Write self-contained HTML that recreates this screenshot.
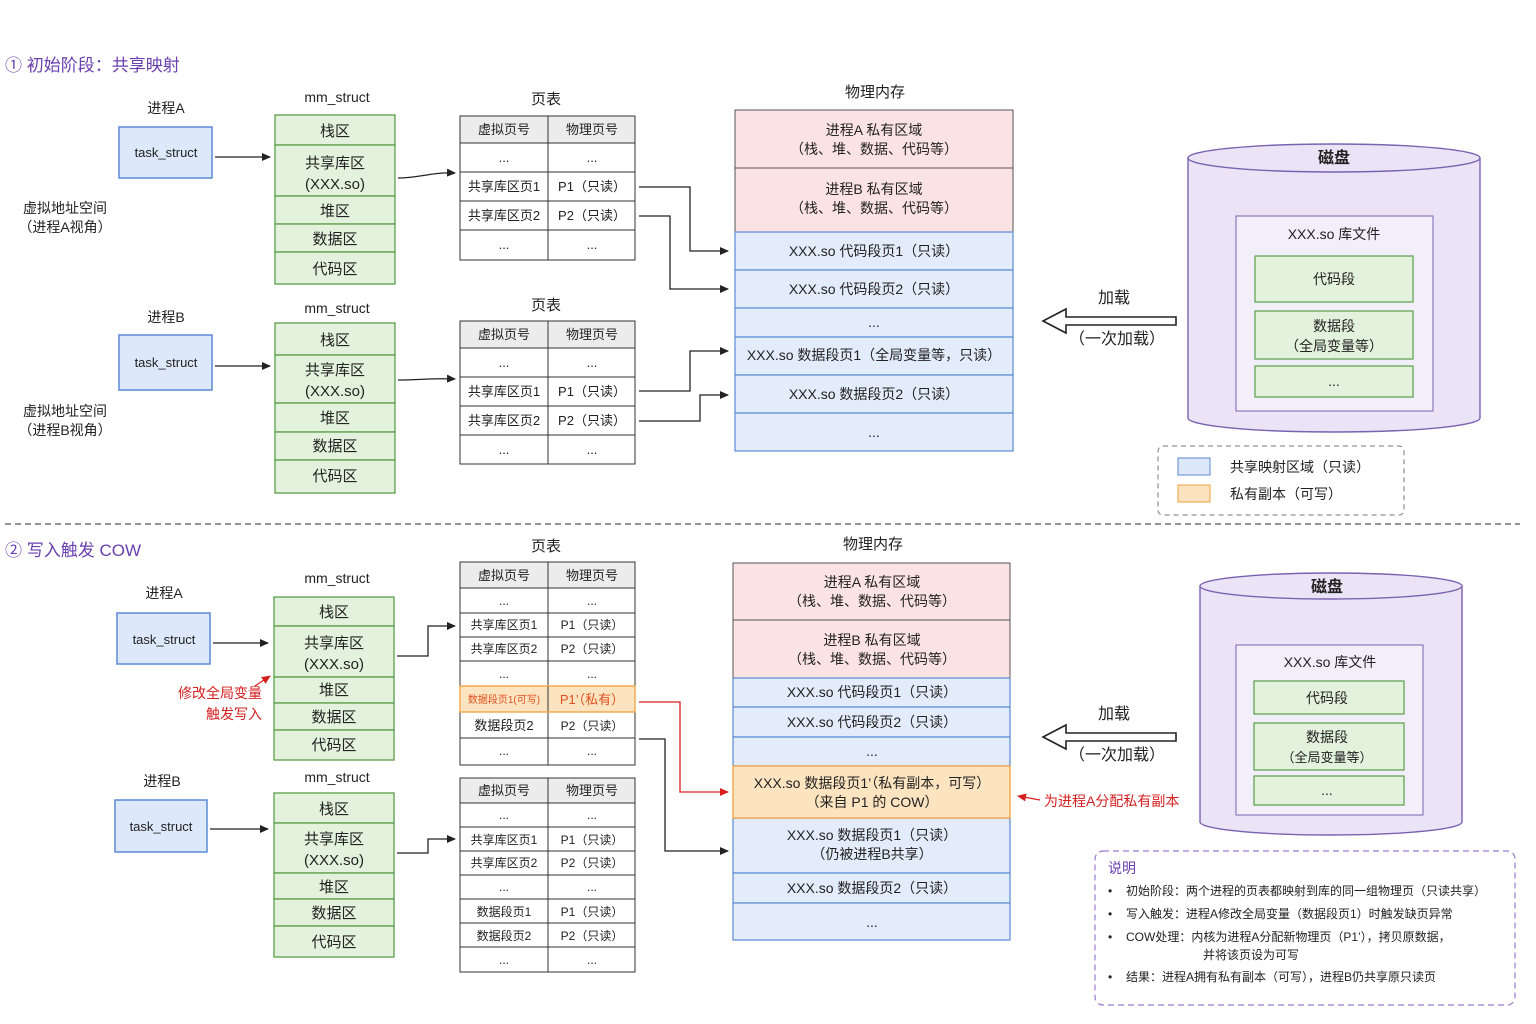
<!DOCTYPE html>
<html><head><meta charset="utf-8"><style>
html,body{margin:0;padding:0;background:#fff;}
svg{display:block;font-family:"Liberation Sans","Noto Sans CJK SC",sans-serif;}
text{fill:#222;}
</style></head><body>
<svg width="1536" height="1024" viewBox="0 0 1536 1024" xmlns="http://www.w3.org/2000/svg">
<defs>
<marker id="ab" markerWidth="10" markerHeight="10" refX="8" refY="5" orient="auto" markerUnits="userSpaceOnUse"><path d="M0,1 L9,5 L0,9 z" fill="#222"/></marker>
<marker id="ar" markerWidth="10" markerHeight="10" refX="8" refY="5" orient="auto" markerUnits="userSpaceOnUse"><path d="M0,1 L9,5 L0,9 z" fill="#d62020"/></marker>
</defs>
<g font-size="14">
<!-- ===== Section 1 ===== -->
<text x="5" y="71" font-size="17" style="fill:#6a3fb0">① 初始阶段：共享映射</text>

<!-- process A -->
<text x="166" y="113" text-anchor="middle">进程A</text>
<rect x="119" y="127" width="93" height="51" fill="#dde8fb" stroke="#5b8ad6" stroke-width="1.5"/>
<text x="166" y="157" text-anchor="middle" font-size="13">task_struct</text>
<text x="65" y="213" text-anchor="middle">虚拟地址空间</text>
<text x="65" y="232" text-anchor="middle">（进程A视角）</text>
<text x="337" y="102" text-anchor="middle">mm_struct</text>
<g fill="#e3f2dd" stroke="#5a9e4a" stroke-width="1.3">
<rect x="275" y="115" width="120" height="30"/><rect x="275" y="145" width="120" height="51"/><rect x="275" y="196" width="120" height="28"/><rect x="275" y="224" width="120" height="28"/><rect x="275" y="252" width="120" height="32"/>
</g>
<g text-anchor="middle" font-size="15">
<text x="335" y="136">栈区</text><text x="335" y="168">共享库区</text><text x="335" y="189">(XXX.so)</text><text x="335" y="216">堆区</text><text x="335" y="244">数据区</text><text x="335" y="274">代码区</text>
</g>
<line x1="215" y1="157" x2="270" y2="157" stroke="#222" stroke-width="1.3" marker-end="url(#ab)"/>
<path d="M398,178 C420,178 430,172 455,173" fill="none" stroke="#222" stroke-width="1.3" marker-end="url(#ab)"/>

<!-- page table A -->
<text x="546" y="104" text-anchor="middle" font-size="15">页表</text>
<rect x="460" y="116" width="175" height="27" fill="#ececec" stroke="#333"/>
<g fill="none" stroke="#333"><rect x="460" y="116" width="175" height="144"/><line x1="548" y1="116" x2="548" y2="260"/><line x1="460" y1="143" x2="635" y2="143"/><line x1="460" y1="172" x2="635" y2="172"/><line x1="460" y1="201" x2="635" y2="201"/><line x1="460" y1="230" x2="635" y2="230"/></g>
<g text-anchor="middle" font-size="13">
<text x="504" y="134">虚拟页号</text><text x="592" y="134">物理页号</text>
<text x="504" y="162">...</text><text x="592" y="162">...</text>
<text x="504" y="191">共享库区页1</text><text x="592" y="191">P1（只读）</text>
<text x="504" y="220">共享库区页2</text><text x="592" y="220">P2（只读）</text>
<text x="504" y="249">...</text><text x="592" y="249">...</text>
</g>

<!-- process B -->
<text x="166" y="322" text-anchor="middle">进程B</text>
<rect x="119" y="335" width="93" height="55" fill="#dde8fb" stroke="#5b8ad6" stroke-width="1.5"/>
<text x="166" y="367" text-anchor="middle" font-size="13">task_struct</text>
<text x="65" y="416" text-anchor="middle">虚拟地址空间</text>
<text x="65" y="435" text-anchor="middle">（进程B视角）</text>
<text x="337" y="313" text-anchor="middle">mm_struct</text>
<g fill="#e3f2dd" stroke="#5a9e4a" stroke-width="1.3">
<rect x="275" y="323" width="120" height="32"/><rect x="275" y="355" width="120" height="48"/><rect x="275" y="403" width="120" height="29"/><rect x="275" y="432" width="120" height="28"/><rect x="275" y="460" width="120" height="33"/>
</g>
<g text-anchor="middle" font-size="15">
<text x="335" y="345">栈区</text><text x="335" y="375">共享库区</text><text x="335" y="396">(XXX.so)</text><text x="335" y="423">堆区</text><text x="335" y="451">数据区</text><text x="335" y="481">代码区</text>
</g>
<line x1="215" y1="366" x2="270" y2="366" stroke="#222" stroke-width="1.3" marker-end="url(#ab)"/>
<path d="M398,380 C420,380 430,378 455,379" fill="none" stroke="#222" stroke-width="1.3" marker-end="url(#ab)"/>

<text x="546" y="310" text-anchor="middle" font-size="15">页表</text>
<rect x="460" y="321" width="175" height="27" fill="#ececec" stroke="#333"/>
<g fill="none" stroke="#333"><rect x="460" y="321" width="175" height="143"/><line x1="548" y1="321" x2="548" y2="464"/><line x1="460" y1="348" x2="635" y2="348"/><line x1="460" y1="377" x2="635" y2="377"/><line x1="460" y1="406" x2="635" y2="406"/><line x1="460" y1="435" x2="635" y2="435"/></g>
<g text-anchor="middle" font-size="13">
<text x="504" y="339">虚拟页号</text><text x="592" y="339">物理页号</text>
<text x="504" y="367">...</text><text x="592" y="367">...</text>
<text x="504" y="396">共享库区页1</text><text x="592" y="396">P1（只读）</text>
<text x="504" y="425">共享库区页2</text><text x="592" y="425">P2（只读）</text>
<text x="504" y="454">...</text><text x="592" y="454">...</text>
</g>

<!-- physical memory 1 -->
<text x="875" y="97" text-anchor="middle" font-size="15">物理内存</text>
<g stroke="#555" stroke-width="1">
<rect x="735" y="110" width="278" height="58" fill="#fbe3e3"/><rect x="735" y="168" width="278" height="64" fill="#fbe3e3"/>
</g>
<g stroke="#5b8ad6" stroke-width="1.2" fill="#e3ecfb">
<rect x="735" y="232" width="278" height="38"/><rect x="735" y="270" width="278" height="38"/><rect x="735" y="308" width="278" height="29"/><rect x="735" y="337" width="278" height="38"/><rect x="735" y="375" width="278" height="38"/><rect x="735" y="413" width="278" height="38"/>
</g>
<g text-anchor="middle">
<text x="874" y="135">进程A 私有区域</text><text x="874" y="154">（栈、堆、数据、代码等）</text>
<text x="874" y="194">进程B 私有区域</text><text x="874" y="213">（栈、堆、数据、代码等）</text>
<text x="874" y="256">XXX.so 代码段页1（只读）</text>
<text x="874" y="294">XXX.so 代码段页2（只读）</text>
<text x="874" y="327">...</text>
<text x="874" y="360">XXX.so 数据段页1（全局变量等，只读）</text>
<text x="874" y="399">XXX.so 数据段页2（只读）</text>
<text x="874" y="437">...</text>
</g>
<g fill="none" stroke="#222" stroke-width="1.3">
<path d="M639,187 L690,187 L690,251 L728,251" marker-end="url(#ab)"/>
<path d="M639,216 L670,216 L670,289 L728,289" marker-end="url(#ab)"/>
<path d="M639,391 L690,391 L690,351 L728,351" marker-end="url(#ab)"/>
<path d="M639,421 L700,421 L700,395 L728,395" marker-end="url(#ab)"/>
</g>

<!-- disk 1 -->
<path d="M1188,158 L1188,418 A146,14 0 0 0 1480,418 L1480,158" fill="#ebe4f6" stroke="#7b62b0" stroke-width="1.4"/>
<ellipse cx="1334" cy="158" rx="146" ry="14" fill="#ebe4f6" stroke="#7b62b0" stroke-width="1.4"/>
<text x="1334" y="163" text-anchor="middle" font-size="16" font-weight="bold">磁盘</text>
<rect x="1236" y="216" width="197" height="195" fill="#f3effa" stroke="#7b62b0"/>
<text x="1334" y="239" text-anchor="middle">XXX.so 库文件</text>
<g fill="#e3f2dd" stroke="#5a9e4a" stroke-width="1.2"><rect x="1255" y="256" width="158" height="46"/><rect x="1255" y="311" width="158" height="48"/><rect x="1255" y="366" width="158" height="31"/></g>
<g text-anchor="middle"><text x="1334" y="284">代码段</text><text x="1334" y="331">数据段</text><text x="1334" y="351">（全局变量等）</text><text x="1334" y="386">...</text></g>
<path d="M1176,317 L1066,317 L1066,309 L1043,321 L1066,333 L1066,325 L1176,325 z" fill="#fff" stroke="#222" stroke-width="1.6"/>
<text x="1114" y="303" text-anchor="middle" font-size="16">加载</text>
<text x="1117" y="344" text-anchor="middle" font-size="16">（一次加载）</text>

<rect x="1158" y="446" width="246" height="69" rx="5" fill="none" stroke="#777" stroke-dasharray="5,4"/>
<rect x="1178" y="458" width="32" height="17" fill="#dde8fb" stroke="#5b8ad6"/>
<rect x="1178" y="485" width="32" height="17" fill="#fde4c0" stroke="#f0a040"/>
<text x="1230" y="472">共享映射区域（只读）</text>
<text x="1230" y="499">私有副本（可写）</text>

<line x1="5" y1="524" x2="1520" y2="524" stroke="#555" stroke-dasharray="6,4" stroke-width="1.2"/>

<!-- ===== Section 2 ===== -->
<text x="5" y="556" font-size="17" style="fill:#6a3fb0">② 写入触发 COW</text>

<text x="164" y="598" text-anchor="middle">进程A</text>
<rect x="117" y="613" width="93" height="51" fill="#dde8fb" stroke="#5b8ad6" stroke-width="1.5"/>
<text x="164" y="644" text-anchor="middle" font-size="13">task_struct</text>
<text x="337" y="583" text-anchor="middle">mm_struct</text>
<g fill="#e3f2dd" stroke="#5a9e4a" stroke-width="1.3">
<rect x="274" y="597" width="120" height="29"/><rect x="274" y="626" width="120" height="51"/><rect x="274" y="677" width="120" height="26"/><rect x="274" y="703" width="120" height="27"/><rect x="274" y="730" width="120" height="30"/>
</g>
<g text-anchor="middle" font-size="15">
<text x="334" y="617">栈区</text><text x="334" y="648">共享库区</text><text x="334" y="669">(XXX.so)</text><text x="334" y="695">堆区</text><text x="334" y="722">数据区</text><text x="334" y="750">代码区</text>
</g>
<line x1="213" y1="643" x2="268" y2="643" stroke="#222" stroke-width="1.3" marker-end="url(#ab)"/>
<path d="M397,656 L428,656 L428,626 L455,626" fill="none" stroke="#222" stroke-width="1.3" marker-end="url(#ab)"/>
<text x="262" y="698" text-anchor="end" style="fill:#d62020">修改全局变量</text>
<text x="262" y="719" text-anchor="end" style="fill:#d62020">触发写入</text>
<path d="M255,686 L270,676" stroke="#d62020" stroke-width="1.2" marker-end="url(#ar)"/>

<text x="162" y="786" text-anchor="middle">进程B</text>
<rect x="115" y="800" width="92" height="52" fill="#dde8fb" stroke="#5b8ad6" stroke-width="1.5"/>
<text x="161" y="831" text-anchor="middle" font-size="13">task_struct</text>
<text x="337" y="782" text-anchor="middle">mm_struct</text>
<g fill="#e3f2dd" stroke="#5a9e4a" stroke-width="1.3">
<rect x="274" y="793" width="120" height="30"/><rect x="274" y="823" width="120" height="50"/><rect x="274" y="873" width="120" height="26"/><rect x="274" y="899" width="120" height="27"/><rect x="274" y="926" width="120" height="31"/>
</g>
<g text-anchor="middle" font-size="15">
<text x="334" y="814">栈区</text><text x="334" y="844">共享库区</text><text x="334" y="865">(XXX.so)</text><text x="334" y="892">堆区</text><text x="334" y="918">数据区</text><text x="334" y="947">代码区</text>
</g>
<line x1="210" y1="829" x2="268" y2="829" stroke="#222" stroke-width="1.3" marker-end="url(#ab)"/>
<path d="M397,853 L428,853 L428,839 L455,839" fill="none" stroke="#222" stroke-width="1.3" marker-end="url(#ab)"/>

<!-- table A2 -->
<text x="546" y="551" text-anchor="middle" font-size="15">页表</text>
<rect x="460" y="562" width="175" height="26" fill="#ececec" stroke="#333"/>
<rect x="460" y="686" width="175" height="26" fill="#fde4c0"/>
<g fill="none" stroke="#333"><rect x="460" y="562" width="175" height="203"/><line x1="548" y1="562" x2="548" y2="765"/><line x1="460" y1="588" x2="635" y2="588"/><line x1="460" y1="613" x2="635" y2="613"/><line x1="460" y1="637" x2="635" y2="637"/><line x1="460" y1="661" x2="635" y2="661"/><line x1="460" y1="712" x2="635" y2="712"/><line x1="460" y1="738" x2="635" y2="738"/></g>
<rect x="460" y="686" width="175" height="26" fill="none" stroke="#f0a040" stroke-width="1.3"/>
<g text-anchor="middle" font-size="12">
<text x="504" y="580" font-size="13">虚拟页号</text><text x="592" y="580" font-size="13">物理页号</text>
<text x="504" y="605">...</text><text x="592" y="605">...</text>
<text x="504" y="629">共享库区页1</text><text x="592" y="629">P1（只读）</text>
<text x="504" y="653">共享库区页2</text><text x="592" y="653">P2（只读）</text>
<text x="504" y="678">...</text><text x="592" y="678">...</text>
<text x="504" y="703" font-size="10" style="fill:#e05020">数据段页1(可写)</text><text x="592" y="704" font-size="13" style="fill:#e05020">P1’（私有）</text>
<text x="504" y="730" font-size="13">数据段页2</text><text x="592" y="730">P2（只读）</text>
<text x="504" y="755">...</text><text x="592" y="755">...</text>
</g>
<!-- table B2 -->
<rect x="460" y="778" width="175" height="25" fill="#ececec" stroke="#333"/>
<g fill="none" stroke="#333"><rect x="460" y="778" width="175" height="194"/><line x1="548" y1="778" x2="548" y2="972"/><line x1="460" y1="803" x2="635" y2="803"/><line x1="460" y1="827" x2="635" y2="827"/><line x1="460" y1="851" x2="635" y2="851"/><line x1="460" y1="875" x2="635" y2="875"/><line x1="460" y1="899" x2="635" y2="899"/><line x1="460" y1="923" x2="635" y2="923"/><line x1="460" y1="947" x2="635" y2="947"/></g>
<g text-anchor="middle" font-size="12">
<text x="504" y="795" font-size="13">虚拟页号</text><text x="592" y="795" font-size="13">物理页号</text>
<text x="504" y="819">...</text><text x="592" y="819">...</text>
<text x="504" y="844">共享库区页1</text><text x="592" y="844">P1（只读）</text>
<text x="504" y="867">共享库区页2</text><text x="592" y="867">P2（只读）</text>
<text x="504" y="891">...</text><text x="592" y="891">...</text>
<text x="504" y="916">数据段页1</text><text x="592" y="916">P1（只读）</text>
<text x="504" y="940">数据段页2</text><text x="592" y="940">P2（只读）</text>
<text x="504" y="964">...</text><text x="592" y="964">...</text>
</g>

<!-- physical memory 2 -->
<text x="873" y="549" text-anchor="middle" font-size="15">物理内存</text>
<g stroke="#555"><rect x="733" y="563" width="277" height="57" fill="#fbe3e3"/><rect x="733" y="620" width="277" height="58" fill="#fbe3e3"/></g>
<g stroke="#5b8ad6" stroke-width="1.2" fill="#e3ecfb">
<rect x="733" y="678" width="277" height="29"/><rect x="733" y="707" width="277" height="30"/><rect x="733" y="737" width="277" height="29"/><rect x="733" y="818" width="277" height="55"/><rect x="733" y="873" width="277" height="30"/><rect x="733" y="903" width="277" height="37"/>
</g>
<rect x="733" y="766" width="277" height="52" fill="#fde4c0" stroke="#f0a040" stroke-width="1.3"/>
<g text-anchor="middle">
<text x="872" y="587">进程A 私有区域</text><text x="872" y="606">（栈、堆、数据、代码等）</text>
<text x="872" y="645">进程B 私有区域</text><text x="872" y="664">（栈、堆、数据、代码等）</text>
<text x="872" y="697">XXX.so 代码段页1（只读）</text>
<text x="872" y="727">XXX.so 代码段页2（只读）</text>
<text x="872" y="756">...</text>
<text x="872" y="788">XXX.so 数据段页1’（私有副本，可写）</text>
<text x="872" y="807">（来自 P1 的 COW）</text>
<text x="872" y="840">XXX.so 数据段页1（只读）</text>
<text x="872" y="859">（仍被进程B共享）</text>
<text x="872" y="893">XXX.so 数据段页2（只读）</text>
<text x="872" y="927">...</text>
</g>
<path d="M639,702 L680,702 L680,792 L728,792" fill="none" stroke="#d62020" stroke-width="1.3" marker-end="url(#ar)"/>
<path d="M639,739 L665,739 L665,851 L728,851" fill="none" stroke="#222" stroke-width="1.3" marker-end="url(#ab)"/>
<path d="M1040,800 L1018,796" stroke="#d62020" stroke-width="1.2" marker-end="url(#ar)"/>
<text x="1044" y="806" style="fill:#d62020">为进程A分配私有副本</text>

<!-- disk 2 -->
<path d="M1200,586 L1200,822 A131,13 0 0 0 1462,822 L1462,586" fill="#ebe4f6" stroke="#7b62b0" stroke-width="1.4"/>
<ellipse cx="1331" cy="586" rx="131" ry="13" fill="#ebe4f6" stroke="#7b62b0" stroke-width="1.4"/>
<text x="1327" y="592" text-anchor="middle" font-size="16" font-weight="bold">磁盘</text>
<rect x="1236" y="645" width="187" height="170" fill="#f3effa" stroke="#7b62b0"/>
<text x="1330" y="667" text-anchor="middle">XXX.so 库文件</text>
<g fill="#e3f2dd" stroke="#5a9e4a" stroke-width="1.2"><rect x="1254" y="681" width="150" height="33"/><rect x="1254" y="723" width="150" height="47"/><rect x="1254" y="776" width="150" height="29"/></g>
<g text-anchor="middle"><text x="1327" y="703">代码段</text><text x="1327" y="742">数据段</text><text x="1327" y="762" font-size="13">（全局变量等）</text><text x="1327" y="795">...</text></g>
<path d="M1176,733 L1066,733 L1066,725 L1043,737 L1066,749 L1066,741 L1176,741 z" fill="#fff" stroke="#222" stroke-width="1.6"/>
<text x="1114" y="719" text-anchor="middle" font-size="16">加载</text>
<text x="1117" y="760" text-anchor="middle" font-size="16">（一次加载）</text>

<!-- note box -->
<rect x="1095" y="851" width="420" height="154" rx="8" fill="none" stroke="#9a7ad0" stroke-dasharray="6,4" stroke-width="1.2"/>
<text x="1108" y="873" style="fill:#6a3fb0">说明</text>
<g font-size="12">
<text x="1108" y="895">•</text><text x="1126" y="895">初始阶段：两个进程的页表都映射到库的同一组物理页（只读共享）</text>
<text x="1108" y="918">•</text><text x="1126" y="918">写入触发：进程A修改全局变量（数据段页1）时触发缺页异常</text>
<text x="1108" y="941">•</text><text x="1126" y="941">COW处理：内核为进程A分配新物理页（P1’），拷贝原数据，</text>
<text x="1203" y="959">并将该页设为可写</text>
<text x="1108" y="981">•</text><text x="1126" y="981">结果：进程A拥有私有副本（可写），进程B仍共享原只读页</text>
</g>
</g>
</svg>
</body></html>
